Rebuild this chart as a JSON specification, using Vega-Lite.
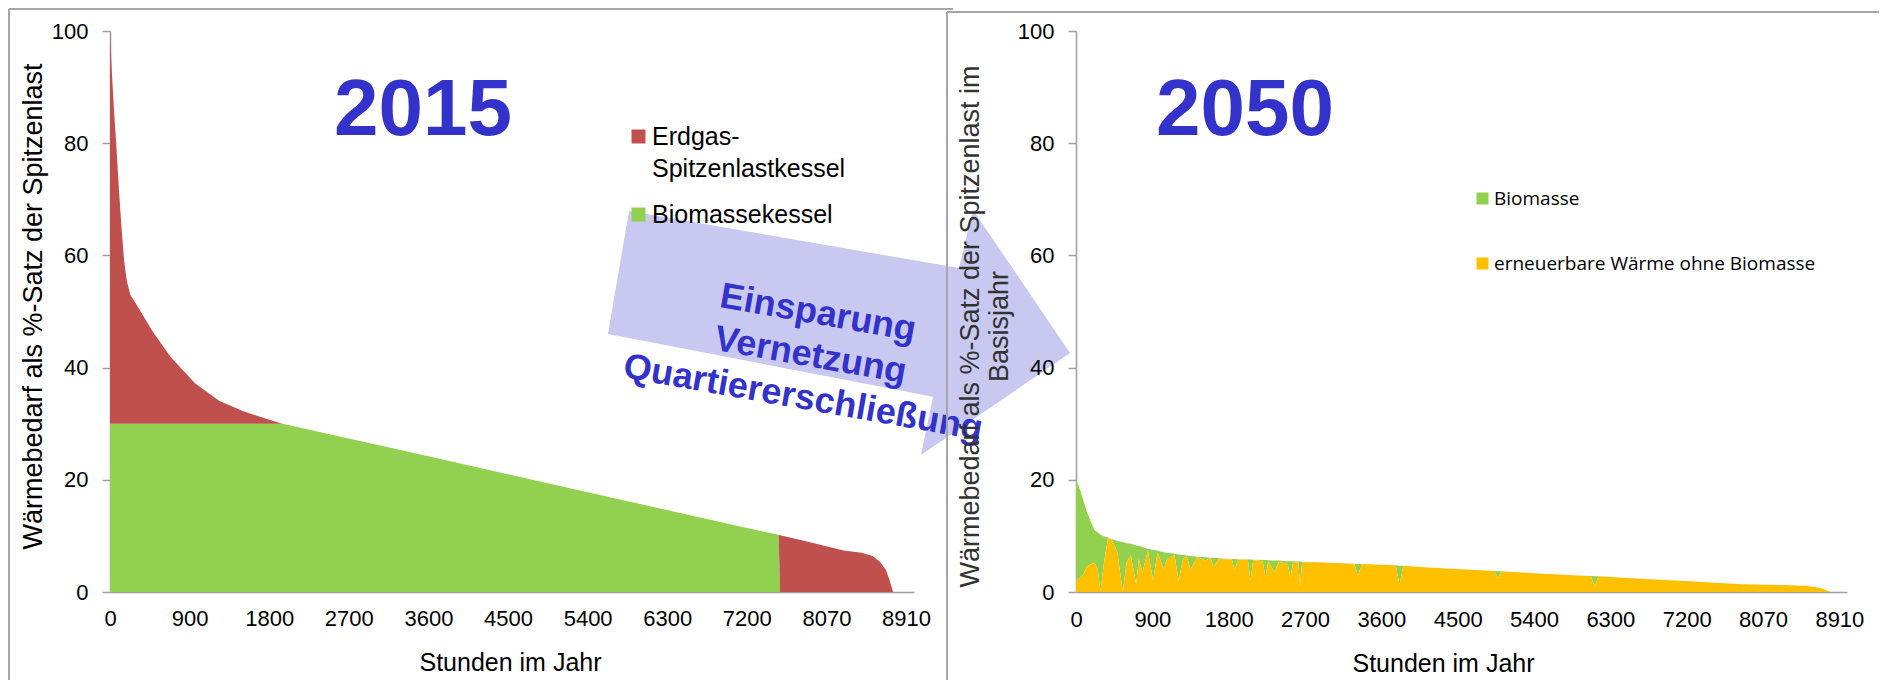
{
  "$schema": "https://vega.github.io/schema/vega-lite/v6.json",
  "background": "white",
  "padding": {"left": 7, "top": 8, "right": 0, "bottom": 0},
  "bounds": "flush",
  "spacing": 162,
  "resolve": {"scale": {"color": "independent", "x": "independent", "y": "independent"}, "legend": {"color": "independent"}},
  "config": {
    "view": {"stroke": null},
    "font": "Liberation Sans",
    "style": {"guide-label": {"lineHeight": 32}},
    "axis": {"grid": false, "labelFlush": false, "labelOverlap": false, "domainColor": "#a0a0a0", "domainWidth": 1.5, "tickColor": "#a0a0a0", "tickWidth": 1.5, "labelColor": "#000000", "titleColor": "#000000", "labelFont": "Liberation Sans", "labelFontSize": 22, "titleFont": "Liberation Sans", "titleFontWeight": "normal"}
  },
  "hconcat": [
    {
      "width": 804,
      "height": 561,
      "layer": [
        {
          "data": {"values": [
            {"h": 0, "Biomassekessel": 30, "Erdgas-Spitzenlastkessel": 70},
            {"h": 20, "Biomassekessel": 30, "Erdgas-Spitzenlastkessel": 63},
            {"h": 45, "Biomassekessel": 30, "Erdgas-Spitzenlastkessel": 56},
            {"h": 70, "Biomassekessel": 30, "Erdgas-Spitzenlastkessel": 50},
            {"h": 100, "Biomassekessel": 30, "Erdgas-Spitzenlastkessel": 42},
            {"h": 130, "Biomassekessel": 30, "Erdgas-Spitzenlastkessel": 35},
            {"h": 160, "Biomassekessel": 30, "Erdgas-Spitzenlastkessel": 29},
            {"h": 190, "Biomassekessel": 30, "Erdgas-Spitzenlastkessel": 25.5},
            {"h": 230, "Biomassekessel": 30, "Erdgas-Spitzenlastkessel": 23},
            {"h": 310, "Biomassekessel": 30, "Erdgas-Spitzenlastkessel": 21},
            {"h": 480, "Biomassekessel": 30, "Erdgas-Spitzenlastkessel": 16.5},
            {"h": 686, "Biomassekessel": 30, "Erdgas-Spitzenlastkessel": 11.9},
            {"h": 961, "Biomassekessel": 30, "Erdgas-Spitzenlastkessel": 7.2},
            {"h": 1233, "Biomassekessel": 30, "Erdgas-Spitzenlastkessel": 4.1},
            {"h": 1508, "Biomassekessel": 30, "Erdgas-Spitzenlastkessel": 2.2},
            {"h": 1783, "Biomassekessel": 30, "Erdgas-Spitzenlastkessel": 0.8},
            {"h": 1950, "Biomassekessel": 30, "Erdgas-Spitzenlastkessel": 0},
            {"h": 3600, "Biomassekessel": 24.2, "Erdgas-Spitzenlastkessel": 0},
            {"h": 5400, "Biomassekessel": 17.8, "Erdgas-Spitzenlastkessel": 0},
            {"h": 7200, "Biomassekessel": 11.4, "Erdgas-Spitzenlastkessel": 0},
            {"h": 7560, "Biomassekessel": 10.2, "Erdgas-Spitzenlastkessel": 0},
            {"h": 7575, "Biomassekessel": 0, "Erdgas-Spitzenlastkessel": 10.1},
            {"h": 7881, "Biomassekessel": 0, "Erdgas-Spitzenlastkessel": 9.0},
            {"h": 8293, "Biomassekessel": 0, "Erdgas-Spitzenlastkessel": 7.4},
            {"h": 8499, "Biomassekessel": 0, "Erdgas-Spitzenlastkessel": 7.0},
            {"h": 8622, "Biomassekessel": 0, "Erdgas-Spitzenlastkessel": 6.4},
            {"h": 8705, "Biomassekessel": 0, "Erdgas-Spitzenlastkessel": 5.4},
            {"h": 8773, "Biomassekessel": 0, "Erdgas-Spitzenlastkessel": 3.9},
            {"h": 8814, "Biomassekessel": 0, "Erdgas-Spitzenlastkessel": 2.1},
            {"h": 8854, "Biomassekessel": 0, "Erdgas-Spitzenlastkessel": 0}
          ]},
          "transform": [{"fold": ["Biomassekessel", "Erdgas-Spitzenlastkessel"], "as": ["series", "value"]}],
          "mark": {"type": "area", "interpolate": "linear"},
          "encoding": {
            "x": {"field": "h", "type": "quantitative", "scale": {"domain": [0, 9090], "nice": false, "zero": false},
              "axis": {"values": [0, 900, 1800, 2700, 3600, 4500, 5400, 6300, 7200, 8100, 9000], "format": "d",
                "labelExpr": "datum.value == 8100 ? '8070' : datum.value == 9000 ? '8910' : datum.label",
                "ticks": false, "tickSize": 0, "labelPadding": 16, "title": "Stunden im Jahr", "titleFontSize": 25,
                "titleX": 400, "titleY": 70, "titleBaseline": "middle", "titleAlign": "center"}},
            "y": {"field": "value", "type": "quantitative", "stack": "zero", "scale": {"domain": [0, 100], "nice": false},
              "axis": {"values": [0, 20, 40, 60, 80, 100], "format": "d", "tickSize": 8, "labelPadding": 14,
                "title": "Wärmebedarf als %-Satz der Spitzenlast", "titleFontSize": 27, "titleX": -77, "titleY": 275,
                "titleBaseline": "middle", "titleAlign": "center", "titleAngle": 270}},
            "color": {"field": "series", "type": "nominal",
              "scale": {"domain": ["Erdgas-Spitzenlastkessel", "Biomassekessel"], "range": ["#c0504d", "#92d050"]},
              "legend": {"orient": "none", "legendX": 516, "legendY": 93, "title": null, "padding": 0,
                "symbolType": "square", "symbolSize": 196, "symbolStrokeWidth": 0, "symbolOpacity": 1,
                "labelFont": "Liberation Sans", "labelFontSize": 25, "labelColor": "#000000", "labelLimit": 400,
                "labelOffset": 1, "rowPadding": 20,
                "labelExpr": "datum.label == 'Erdgas-Spitzenlastkessel' ? ['Erdgas-', 'Spitzenlastkessel'] : datum.label"}},
            "order": {"field": "series", "sort": "ascending"}
          }
        },
        {
          "data": {"values": [
            {"i": 0, "h": 5868, "v": 67.9},
            {"i": 1, "h": 9599, "v": 57.75},
            {"i": 2, "h": 9757, "v": 68.1},
            {"i": 3, "h": 10854, "v": 42.6},
            {"i": 4, "h": 9169, "v": 24.4},
            {"i": 5, "h": 9305, "v": 34.8},
            {"i": 6, "h": 5630, "v": 46.0}
          ]},
          "mark": {"type": "line", "filled": true, "fill": "#8585e0", "opacity": 0.45, "strokeWidth": 0, "clip": false},
          "encoding": {
            "x": {"field": "h", "type": "quantitative", "scale": {"domain": [0, 9090], "nice": false, "zero": false}},
            "y": {"field": "v", "type": "quantitative", "scale": {"domain": [0, 100], "nice": false}},
            "order": {"field": "i", "type": "quantitative"}
          }
        },
        {
          "data": {"values": [{}]},
          "mark": {"type": "text", "text": "2015", "font": "Liberation Sans", "fontSize": 80, "fontWeight": "bold", "color": "#3333cc", "align": "center", "baseline": "middle", "clip": false},
          "encoding": {
            "x": {"datum": 3539, "type": "quantitative", "scale": {"domain": [0, 9090], "nice": false, "zero": false}},
            "y": {"datum": 85.7, "type": "quantitative", "scale": {"domain": [0, 100], "nice": false}}
          }
        },
        {
          "data": {"values": [{}]},
          "mark": {"type": "text", "text": ["Einsparung", "Vernetzung", "Quartiererschließung"], "lineHeight": 43, "angle": 10, "font": "Liberation Sans", "fontSize": 36, "fontWeight": "bold", "color": "#3333cc", "align": "center", "baseline": "middle", "clip": false},
          "encoding": {
            "x": {"datum": 8005, "type": "quantitative", "scale": {"domain": [0, 9090], "nice": false, "zero": false}},
            "y": {"datum": 49.7, "type": "quantitative", "scale": {"domain": [0, 100], "nice": false}}
          }
        },
        {
          "data": {"values": [{}]},
          "mark": {"type": "rule", "color": "#a6a6a6", "strokeWidth": 2, "clip": false},
          "encoding": {
            "x": {"datum": -1142, "type": "quantitative", "scale": {"domain": [0, 9090], "nice": false, "zero": false}},
            "y": {"datum": 103.9, "type": "quantitative", "scale": {"domain": [0, 100], "nice": false}},
            "y2": {"datum": -15.7}
          }
        },
        {
          "data": {"values": [{}]},
          "mark": {"type": "rule", "color": "#a6a6a6", "strokeWidth": 2, "clip": false},
          "encoding": {
            "x": {"datum": -1142, "type": "quantitative", "scale": {"domain": [0, 9090], "nice": false, "zero": false}},
            "x2": {"datum": 9531},
            "y": {"datum": 103.9, "type": "quantitative", "scale": {"domain": [0, 100], "nice": false}}
          }
        }
      ]
    },
    {
      "width": 771,
      "height": 561,
      "layer": [
        {
          "data": {"values": [
            {"h": 0, "erneuerbare Wärme ohne Biomasse": 2.0, "Biomasse": 18.0},
            {"h": 40, "erneuerbare Wärme ohne Biomasse": 2.5, "Biomasse": 16.1},
            {"h": 81, "erneuerbare Wärme ohne Biomasse": 3.0, "Biomasse": 13.6},
            {"h": 130, "erneuerbare Wärme ohne Biomasse": 4.6, "Biomasse": 9.6},
            {"h": 176, "erneuerbare Wärme ohne Biomasse": 5.0, "Biomasse": 7.5},
            {"h": 220, "erneuerbare Wärme ohne Biomasse": 5.2, "Biomasse": 5.8},
            {"h": 257, "erneuerbare Wärme ohne Biomasse": 4.0, "Biomasse": 6.6},
            {"h": 289, "erneuerbare Wärme ohne Biomasse": 0.2, "Biomasse": 10.0},
            {"h": 332, "erneuerbare Wärme ohne Biomasse": 5.5, "Biomasse": 4.4},
            {"h": 376, "erneuerbare Wärme ohne Biomasse": 9.5, "Biomasse": 0.2},
            {"h": 400, "erneuerbare Wärme ohne Biomasse": 9.6, "Biomasse": 0},
            {"h": 427, "erneuerbare Wärme ohne Biomasse": 9.2, "Biomasse": 0.2},
            {"h": 489, "erneuerbare Wärme ohne Biomasse": 7.0, "Biomasse": 2.1},
            {"h": 552, "erneuerbare Wärme ohne Biomasse": 0.0, "Biomasse": 8.9},
            {"h": 596, "erneuerbare Wärme ohne Biomasse": 5.3, "Biomasse": 3.4},
            {"h": 646, "erneuerbare Wärme ohne Biomasse": 6.6, "Biomasse": 2.0},
            {"h": 709, "erneuerbare Wärme ohne Biomasse": 1.4, "Biomasse": 6.9},
            {"h": 740, "erneuerbare Wärme ohne Biomasse": 5.9, "Biomasse": 2.3},
            {"h": 784, "erneuerbare Wärme ohne Biomasse": 3.5, "Biomasse": 4.5},
            {"h": 847, "erneuerbare Wärme ohne Biomasse": 7.4, "Biomasse": 0.3},
            {"h": 910, "erneuerbare Wärme ohne Biomasse": 2.0, "Biomasse": 5.5},
            {"h": 960, "erneuerbare Wärme ohne Biomasse": 7.1, "Biomasse": 0.3},
            {"h": 1035, "erneuerbare Wärme ohne Biomasse": 4.1, "Biomasse": 3.0},
            {"h": 1073, "erneuerbare Wärme ohne Biomasse": 5.9, "Biomasse": 1.1},
            {"h": 1161, "erneuerbare Wärme ohne Biomasse": 6.6, "Biomasse": 0.2},
            {"h": 1211, "erneuerbare Wärme ohne Biomasse": 2.0, "Biomasse": 4.7},
            {"h": 1261, "erneuerbare Wärme ohne Biomasse": 5.9, "Biomasse": 0.7},
            {"h": 1305, "erneuerbare Wärme ohne Biomasse": 6.4, "Biomasse": 0.1},
            {"h": 1349, "erneuerbare Wärme ohne Biomasse": 4.0, "Biomasse": 2.4},
            {"h": 1430, "erneuerbare Wärme ohne Biomasse": 6.2, "Biomasse": 0.1},
            {"h": 1525, "erneuerbare Wärme ohne Biomasse": 5.6, "Biomasse": 0.6},
            {"h": 1588, "erneuerbare Wärme ohne Biomasse": 6.1, "Biomasse": 0},
            {"h": 1619, "erneuerbare Wärme ohne Biomasse": 4.4, "Biomasse": 1.7},
            {"h": 1681, "erneuerbare Wärme ohne Biomasse": 5.9, "Biomasse": 0.1},
            {"h": 1838, "erneuerbare Wärme ohne Biomasse": 5.8, "Biomasse": 0.1},
            {"h": 1870, "erneuerbare Wärme ohne Biomasse": 4.0, "Biomasse": 1.9},
            {"h": 1913, "erneuerbare Wärme ohne Biomasse": 5.8, "Biomasse": 0.05},
            {"h": 2026, "erneuerbare Wärme ohne Biomasse": 5.7, "Biomasse": 0.1},
            {"h": 2058, "erneuerbare Wärme ohne Biomasse": 2.0, "Biomasse": 3.8},
            {"h": 2089, "erneuerbare Wärme ohne Biomasse": 5.7, "Biomasse": 0.05},
            {"h": 2202, "erneuerbare Wärme ohne Biomasse": 5.5, "Biomasse": 0.2},
            {"h": 2234, "erneuerbare Wärme ohne Biomasse": 2.6, "Biomasse": 3.1},
            {"h": 2265, "erneuerbare Wärme ohne Biomasse": 5.5, "Biomasse": 0.15},
            {"h": 2340, "erneuerbare Wärme ohne Biomasse": 3.5, "Biomasse": 2.1},
            {"h": 2390, "erneuerbare Wärme ohne Biomasse": 5.4, "Biomasse": 0.2},
            {"h": 2497, "erneuerbare Wärme ohne Biomasse": 5.0, "Biomasse": 0.5},
            {"h": 2528, "erneuerbare Wärme ohne Biomasse": 2.6, "Biomasse": 2.9},
            {"h": 2560, "erneuerbare Wärme ohne Biomasse": 5.3, "Biomasse": 0.2},
            {"h": 2622, "erneuerbare Wärme ohne Biomasse": 5.3, "Biomasse": 0.15},
            {"h": 2641, "erneuerbare Wärme ohne Biomasse": 1.1, "Biomasse": 4.35},
            {"h": 2666, "erneuerbare Wärme ohne Biomasse": 5.3, "Biomasse": 0.1},
            {"h": 2842, "erneuerbare Wärme ohne Biomasse": 5.3, "Biomasse": 0},
            {"h": 3280, "erneuerbare Wärme ohne Biomasse": 5.05, "Biomasse": 0},
            {"h": 3325, "erneuerbare Wärme ohne Biomasse": 2.9, "Biomasse": 2.1},
            {"h": 3370, "erneuerbare Wärme ohne Biomasse": 5.0, "Biomasse": 0},
            {"h": 3770, "erneuerbare Wärme ohne Biomasse": 4.75, "Biomasse": 0},
            {"h": 3814, "erneuerbare Wärme ohne Biomasse": 1.3, "Biomasse": 3.4},
            {"h": 3860, "erneuerbare Wärme ohne Biomasse": 4.7, "Biomasse": 0},
            {"h": 4097, "erneuerbare Wärme ohne Biomasse": 4.4, "Biomasse": 0},
            {"h": 4724, "erneuerbare Wärme ohne Biomasse": 3.9, "Biomasse": 0},
            {"h": 4930, "erneuerbare Wärme ohne Biomasse": 3.75, "Biomasse": 0},
            {"h": 4975, "erneuerbare Wärme ohne Biomasse": 2.5, "Biomasse": 1.2},
            {"h": 5020, "erneuerbare Wärme ohne Biomasse": 3.7, "Biomasse": 0},
            {"h": 5352, "erneuerbare Wärme ohne Biomasse": 3.4, "Biomasse": 0},
            {"h": 5980, "erneuerbare Wärme ohne Biomasse": 2.9, "Biomasse": 0},
            {"h": 6070, "erneuerbare Wärme ohne Biomasse": 2.85, "Biomasse": 0},
            {"h": 6117, "erneuerbare Wärme ohne Biomasse": 1.0, "Biomasse": 1.8},
            {"h": 6160, "erneuerbare Wärme ohne Biomasse": 2.8, "Biomasse": 0},
            {"h": 6607, "erneuerbare Wärme ohne Biomasse": 2.4, "Biomasse": 0},
            {"h": 7234, "erneuerbare Wärme ohne Biomasse": 1.9, "Biomasse": 0},
            {"h": 7862, "erneuerbare Wärme ohne Biomasse": 1.4, "Biomasse": 0},
            {"h": 8300, "erneuerbare Wärme ohne Biomasse": 1.25, "Biomasse": 0},
            {"h": 8611, "erneuerbare Wärme ohne Biomasse": 1.1, "Biomasse": 0},
            {"h": 8771, "erneuerbare Wärme ohne Biomasse": 0.7, "Biomasse": 0},
            {"h": 8850, "erneuerbare Wärme ohne Biomasse": 0.3, "Biomasse": 0},
            {"h": 8893, "erneuerbare Wärme ohne Biomasse": 0, "Biomasse": 0}
          ]},
          "transform": [{"fold": ["Biomasse", "erneuerbare Wärme ohne Biomasse"], "as": ["source", "value"]}],
          "mark": {"type": "area", "interpolate": "linear"},
          "encoding": {
            "x": {"field": "h", "type": "quantitative", "scale": {"domain": [0, 9090], "nice": false, "zero": false},
              "axis": {"values": [0, 900, 1800, 2700, 3600, 4500, 5400, 6300, 7200, 8100, 9000], "format": "d",
                "labelExpr": "datum.value == 8100 ? '8070' : datum.value == 9000 ? '8910' : datum.label",
                "ticks": false, "tickSize": 0, "labelPadding": 17, "title": "Stunden im Jahr", "titleFontSize": 25,
                "titleX": 367, "titleY": 71, "titleBaseline": "middle", "titleAlign": "center"}},
            "y": {"field": "value", "type": "quantitative", "stack": "zero", "scale": {"domain": [0, 100], "nice": false},
              "axis": {"values": [0, 20, 40, 60, 80, 100], "format": "d", "tickSize": 8, "labelPadding": 14,
                "title": ["Wärmebedarf als %-Satz der Spitzenlast im", "Basisjahr"], "titleFontSize": 27, "titleLineHeight": 29,
                "titleColor": "#333333", "titleX": -106, "titleY": 295,
                "titleBaseline": "middle", "titleAlign": "center", "titleAngle": 270}},
            "color": {"field": "source", "type": "nominal",
              "scale": {"domain": ["Biomasse", "erneuerbare Wärme ohne Biomasse"], "range": ["#92d050", "#ffc000"]},
              "legend": {"orient": "none", "legendX": 397, "legendY": 158, "title": null, "padding": 0,
                "symbolType": "square", "symbolSize": 144, "symbolStrokeWidth": 0, "symbolOpacity": 1,
                "labelFont": "Open Sans", "labelFontSize": 19, "labelColor": "#000000", "labelLimit": 400,
                "labelOffset": 2, "rowPadding": 45}},
            "order": {"field": "source", "sort": "descending"}
          }
        },
        {
          "data": {"values": [{}]},
          "mark": {"type": "text", "text": "2050", "font": "Liberation Sans", "fontSize": 80, "fontWeight": "bold", "color": "#3333cc", "align": "center", "baseline": "middle", "clip": false},
          "encoding": {
            "x": {"datum": 1992, "type": "quantitative", "scale": {"domain": [0, 9090], "nice": false, "zero": false}},
            "y": {"datum": 85.7, "type": "quantitative", "scale": {"domain": [0, 100], "nice": false}}
          }
        },
        {
          "data": {"values": [{}]},
          "mark": {"type": "rule", "color": "#a6a6a6", "strokeWidth": 2, "clip": false},
          "encoding": {
            "x": {"datum": -1521, "type": "quantitative", "scale": {"domain": [0, 9090], "nice": false, "zero": false}},
            "y": {"datum": 103.4, "type": "quantitative", "scale": {"domain": [0, 100], "nice": false}},
            "y2": {"datum": -15.7}
          }
        },
        {
          "data": {"values": [{}]},
          "mark": {"type": "rule", "color": "#a6a6a6", "strokeWidth": 2, "clip": false},
          "encoding": {
            "x": {"datum": -1521, "type": "quantitative", "scale": {"domain": [0, 9090], "nice": false, "zero": false}},
            "x2": {"datum": 9467},
            "y": {"datum": 103.4, "type": "quantitative", "scale": {"domain": [0, 100], "nice": false}}
          }
        }
      ]
    }
  ]
}
